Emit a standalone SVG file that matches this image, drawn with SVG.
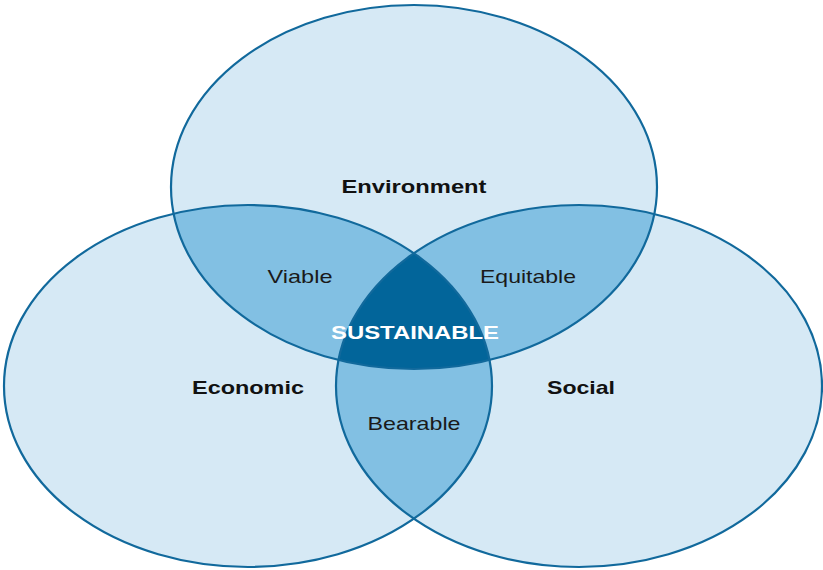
<svg xmlns="http://www.w3.org/2000/svg" width="823" height="570" viewBox="0 0 823 570">
  <style>
    .set { fill: #d6e9f5; }
    .pair { fill: #82c0e3; }
    .core { fill: #02659a; }
    .rim { fill: none; stroke: #11699c; stroke-width: 2.2; }
    .title { font-family: "Liberation Sans", Arial, sans-serif; font-weight: bold; font-size: 19px; fill: #111; text-anchor: middle; }
    .region { font-family: "Liberation Sans", Arial, sans-serif; font-size: 19px; fill: #1a1a1a; text-anchor: middle; }
    .centre { font-family: "Liberation Sans", Arial, sans-serif; font-weight: bold; font-size: 19px; fill: #ffffff; text-anchor: middle; }
  </style>
  <defs>
    <ellipse id="envShape" cx="414" cy="187" rx="243" ry="182"/>
    <ellipse id="ecoShape" cx="248" cy="386" rx="244" ry="181"/>
    <ellipse id="socShape" cx="579" cy="386" rx="243" ry="181"/>
    <clipPath id="clipEnv"><use href="#envShape"/></clipPath>
    <clipPath id="clipEco"><use href="#ecoShape"/></clipPath>
    <clipPath id="clipSoc"><use href="#socShape"/></clipPath>
  </defs>

  <rect width="823" height="570" fill="#ffffff"/>

  <!-- base sets -->
  <g id="environment">
    <use href="#envShape" class="set"/>
  </g>
  <g id="economic">
    <use href="#ecoShape" class="set"/>
  </g>
  <g id="social">
    <use href="#socShape" class="set"/>
  </g>

  <!-- pairwise overlaps -->
  <g id="viable" clip-path="url(#clipEnv)">
    <use href="#ecoShape" class="pair"/>
  </g>
  <g id="equitable" clip-path="url(#clipEnv)">
    <use href="#socShape" class="pair"/>
  </g>
  <g id="bearable" clip-path="url(#clipEco)">
    <use href="#socShape" class="pair"/>
  </g>

  <!-- triple overlap -->
  <g id="sustainable" clip-path="url(#clipEnv)">
    <g clip-path="url(#clipEco)">
      <use href="#socShape" class="core"/>
    </g>
  </g>

  <!-- outlines -->
  <g id="outlines">
    <use href="#envShape" class="rim"/>
    <use href="#ecoShape" class="rim"/>
    <use href="#socShape" class="rim"/>
  </g>

  <!-- labels -->
  <g id="labels">
    <text class="title" x="414" y="193" textLength="145" lengthAdjust="spacingAndGlyphs">Environment</text>
    <text class="title" x="248" y="394" textLength="112" lengthAdjust="spacingAndGlyphs">Economic</text>
    <text class="title" x="581" y="394" textLength="68" lengthAdjust="spacingAndGlyphs">Social</text>
    <text class="region" x="300" y="283" textLength="65" lengthAdjust="spacingAndGlyphs">Viable</text>
    <text class="region" x="528" y="283" textLength="96" lengthAdjust="spacingAndGlyphs">Equitable</text>
    <text class="region" x="414" y="430" textLength="93" lengthAdjust="spacingAndGlyphs">Bearable</text>
    <text class="centre" x="415" y="339" textLength="168" lengthAdjust="spacingAndGlyphs">SUSTAINABLE</text>
  </g>
</svg>
